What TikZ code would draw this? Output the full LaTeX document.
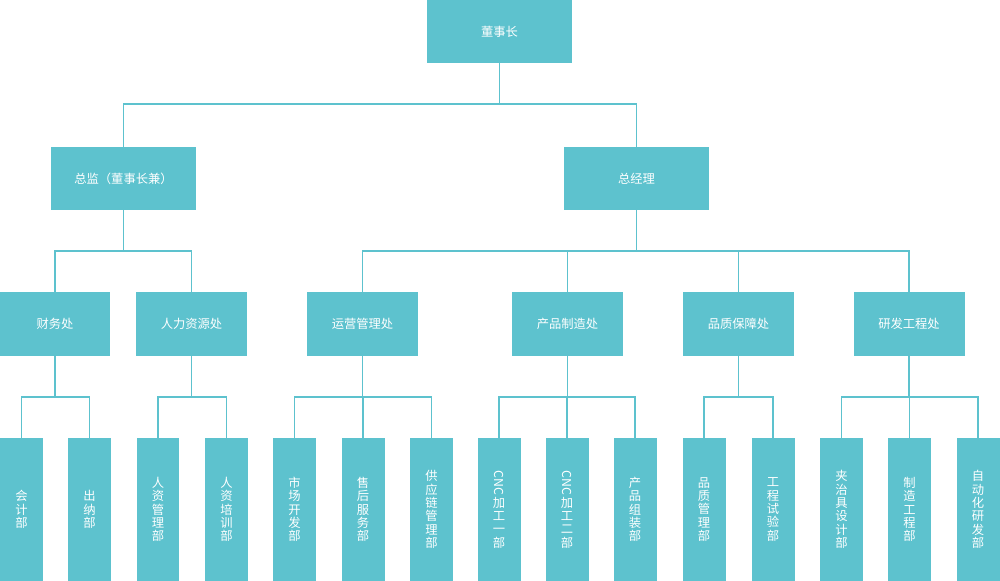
\documentclass[tikz,border=0pt]{standalone}
\usepackage{fontspec}
\setmainfont{Noto Sans CJK SC}
\definecolor{teal}{HTML}{5DC2CE}
\tikzset{
  box/.style={rectangle, fill=teal, text=white, minimum width=2.9cm, minimum height=1.26cm, inner sep=0pt, font=\fontsize{7}{8}\selectfont},
  midbox/.style={box, minimum width=2.22cm, minimum height=1.28cm},
  dept/.style={box, minimum width=0.86cm, minimum height=2.86cm, align=center, font=\fontsize{7}{7.6}\selectfont},
  link/.style={draw=teal, line width=1pt}
}
\begin{document}
\begin{tikzpicture}[x=0.02cm, y=-0.02cm]
    \useasboundingbox (0,0) rectangle (1000,581);
    % Nodes
    \node (chair) [box] at (499.5, 31.5) {董事长};
    \node (dir) [box] at (123.5, 178.5) {总监（董事长兼）};
    \node (gm) [box] at (636.5, 178.5) {总经理};
    \node (fin) [midbox] at (55, 324) {财务处};
    \node (hr) [midbox] at (191.5, 324) {人力资源处};
    \node (ops) [midbox] at (362.5, 324) {运营管理处};
    \node (prod) [midbox] at (567.5, 324) {产品制造处};
    \node (qa) [midbox] at (738.5, 324) {品质保障处};
    \node (rd) [midbox] at (909, 324) {研发工程处};
    \node (acc) [dept] at (21.5, 509.5) {会\\计\\部};
    \node (cash) [dept] at (89.5, 509.5) {出\\纳\\部};
    \node (hrm) [dept] at (158, 509.5) {人\\资\\管\\理\\部};
    \node (hrt) [dept] at (226.5, 509.5) {人\\资\\培\\训\\部};
    \node (mkt) [dept] at (294.5, 509.5) {市\\场\\开\\发\\部};
    \node (svc) [dept] at (363, 509.5) {售\\后\\服\\务\\部};
    \node (scm) [dept] at (431.5, 509.5) {供\\应\\链\\管\\理\\部};
    \node (cnc1) [dept] at (499, 509.5) {\rotatebox{-90}{CNC}\\加\\工\\一\\部};
    \node (cnc2) [dept] at (567, 509.5) {\rotatebox{-90}{CNC}\\加\\工\\二\\部};
    \node (asm) [dept] at (635, 509.5) {产\\品\\组\\装\\部};
    \node (qm) [dept] at (704, 509.5) {品\\质\\管\\理\\部};
    \node (test) [dept] at (773, 509.5) {工\\程\\试\\验\\部};
    \node (jig) [dept] at (841.5, 509.5) {夹\\治\\具\\设\\计\\部};
    \node (mfg) [dept] at (909.5, 509.5) {制\\造\\工\\程\\部};
    \node (auto) [dept] at (978, 509.5) {自\\动\\化\\研\\发\\部};

    % Edges
    \foreach \p/\c/\y in {chair/dir/104, chair/gm/104,
        dir/fin/251, dir/hr/251, gm/ops/251, gm/prod/251, gm/qa/251, gm/rd/251,
        fin/acc/397, fin/cash/397, hr/hrm/397, hr/hrt/397,
        ops/mkt/397, ops/svc/397, ops/scm/397,
        prod/cnc1/397, prod/cnc2/397, prod/asm/397,
        qa/qm/397, qa/test/397,
        rd/jig/397, rd/mfg/397, rd/auto/397}
        \draw[link] (\p.south) -- (\p.south |- 0,\y) -| (\c.north);
\end{tikzpicture}
\end{document}
